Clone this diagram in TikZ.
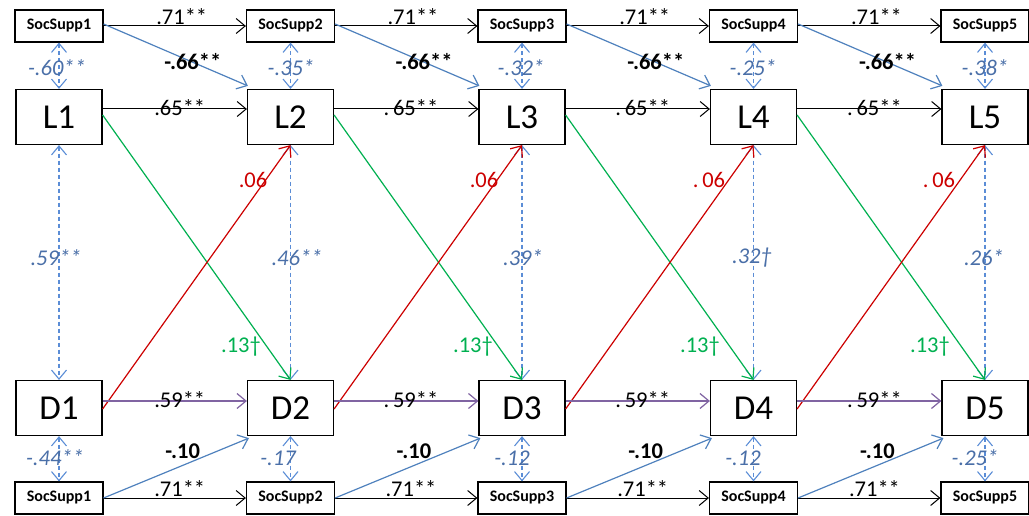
\documentclass[tikz,border=0pt]{standalone}
\usepackage{fontspec}
\setmainfont{Carlito}
\usetikzlibrary{arrows.meta}
\definecolor{lblue}{HTML}{4F81BD}
\definecolor{dashblue}{HTML}{5B8DD6}
\definecolor{dblue}{HTML}{4A6FA8}
\definecolor{myred}{HTML}{CC0000}
\definecolor{mygreen}{HTML}{00B050}
\definecolor{mypurple}{HTML}{8064A2}
\begin{document}
\begin{tikzpicture}[x=1pt,y=-1pt,
 ssbox/.style={draw, line width=1.2pt, minimum width=88pt, minimum height=32pt, inner sep=0pt, font=\fontsize{16}{16}\selectfont\bfseries},
 bigbox/.style={draw, line width=1.2pt, minimum width=86pt, minimum height=55pt, inner sep=0pt, font=\fontsize{35}{35}\selectfont},
 tipb/.tip={Straight Barb[length=9pt,width=15pt]},
 arr/.style={-tipb, line width=1pt},
 darr/.style={tipb-tipb, line width=1.1pt, dash pattern=on 4pt off 3pt, dashblue},
 lab/.style={font=\fontsize{22.5}{22}\selectfont, inner sep=0pt},
 blab/.style={lab, font=\fontsize{22.5}{22}\selectfont\bfseries},
 ilab/.style={lab, font=\fontsize{22.5}{22}\selectfont\itshape, text=dblue},
]
\useasboundingbox (0,0) rectangle (1029,516);
% nodes
\foreach \i/\x in {1/59,2/290.5,3/522,4/753.5,5/985}{
  \node[ssbox] (T\i) at (\x,26) {SocSupp\i};
  \node[bigbox] (L\i) at (\x,117) {L\i};
  \node[bigbox] (D\i) at (\x,408) {D\i};
  \node[ssbox] (B\i) at (\x,498) {SocSupp\i};
  \draw[darr] (T\i.south) -- (L\i.north);
  \draw[darr] (L\i.south) -- (D\i.north);
  \draw[darr] (D\i.south) -- (B\i.north);
}
% within-wave labels
\node[ilab] at (57,68) {-.60**};
\node[ilab] at (291,68) {-.35*};
\node[ilab] at (521,68) {-.32*};
\node[ilab] at (753,68) {-.25*};
\node[ilab] at (985,68) {-.38*};
\node[ilab] at (56,258) {.59**};
\node[ilab] at (297,258) {.46**};
\node[ilab] at (523,258) {.39*};
\node[ilab] at (752,258) {.32†};
\node[ilab] at (984,258) {.26*};
\node[ilab] at (55,458) {-.44**};
\node[ilab] at (278,458) {-.17};
\node[ilab] at (512,458) {-.12};
\node[ilab] at (743,458) {-.12};
\node[ilab] at (975,458) {-.25*};
% cross-lagged paths
\foreach \i/\j/\m/\sp in {1/2/174.75/,2/3/406/\,,3/4/637.75/\,,4/5/869.5/\,}{
  \draw[arr,black] (T\i.east) -- (T\j.west);
  \draw[arr,lblue,line width=1.2pt] ([yshift=2pt]T\i.east) -- ([shift={(1pt,3pt)}]L\j.north west);
  \draw[arr,black] ([yshift=8pt]L\i.east) -- ([yshift=8pt]L\j.west);
  \draw[arr,mygreen,line width=1.2pt] ([yshift=2pt]L\i.east) -- (D\j.north);
  \draw[arr,myred,line width=1.2pt] ([yshift=-1pt]D\i.east) -- (L\j.south);
  \draw[arr,mypurple,line width=1.2pt] ([yshift=7pt]D\i.east) -- ([yshift=7pt]D\j.west);
  \draw[arr,black] (B\i.east) -- (B\j.west);
  \draw[arr,lblue,line width=1.2pt] (B\i.east) -- ([shift={(2pt,-2pt)}]D\j.south west);
  \node[lab] at (\m+7,17) {.71**};
  \node[blab] at (\m+18,62) {-.66**};
  \node[lab] at (\m+5,108) {.\sp65**};
  \node[lab] at (\m+5,400) {.\sp59**};
  \node[blab] at (\m+8,451) {-.10};
  \node[lab] at (\m+5,489) {.71**};
}
\node[lab,text=myred] at (253,180) {.06};
\node[lab,text=myred] at (484,180) {.06};
\node[lab,text=myred] at (709,180) {.\,06};
\node[lab,text=myred] at (939,180) {.\,06};
\node[lab,text=mygreen] at (241,347) {.13†};
\node[lab,text=mygreen] at (473,347) {.13†};
\node[lab,text=mygreen] at (700,347) {.13†};
\node[lab,text=mygreen] at (930,347) {.13†};
\end{tikzpicture}
\end{document}
